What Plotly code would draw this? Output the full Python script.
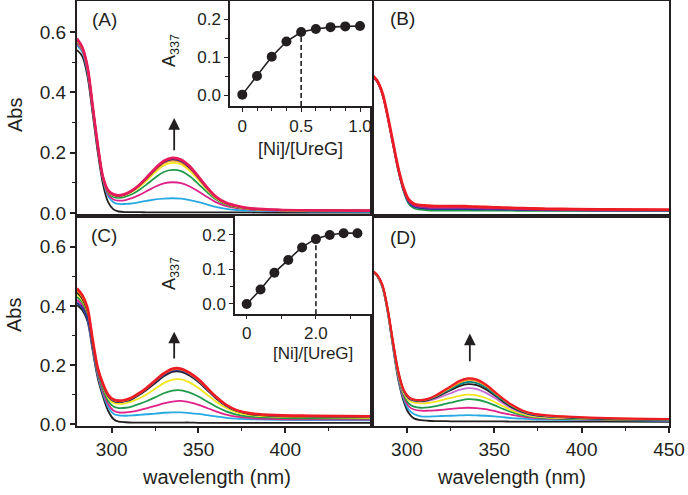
"""
Ni(II) titration of UreG followed by UV-vis: four spectral panels + two insets
"""
import plotly.graph_objects as go

W, H = 688, 495
FONT = "Liberation Sans, Arial, sans-serif"

# ── Palette ───────────────────────────────────────────────────────────────────
COLORS = {
    "black":   "#231f20",
    "cyan":    "#27a9e1",
    "magenta": "#e0218a",
    "green":   "#1f9b4a",
    "yellow":  "#f3e61c",
    "orange":  "#f7941d",
    "navy":    "#2e3192",
    "red":     "#ed1c24",
    "crimson": "#e61b5c",
    "purple":  "#92278f",
    "violet":  "#c86dd7",
    "teal":    "#00857f",
    "text":    "#231f20",
}

# ── Data ──────────────────────────────────────────────────────────────────────
WL = [280, 283, 286, 289, 292, 295, 298, 301, 304, 308, 312, 316, 320, 325,
      330, 335, 340, 345, 350, 355, 360, 366, 372, 380, 395, 415, 450]

# panel (A)
A_COLORS = ["black", "cyan", "magenta", "green", "yellow", "orange", "navy", "red", "crimson"]
A_SPECTRA = [
    [.540, .520, .455, .330, .200, .095, .035, .012, .005, .003, .003, .003, .002, .002, .002, .002, .002, .002, .002, .002, .002, .002, .002, .002, .001, .001, .001],
    [.555, .534, .469, .345, .214, .110, .055, .036, .030, .030, .032, .036, .040, .045, .048, .049, .048, .043, .036, .028, .020, .014, .010, .008, .006, .005, .004],
    [.562, .540, .475, .350, .219, .114, .062, .045, .041, .043, .050, .060, .072, .087, .098, .102, .099, .088, .071, .053, .036, .023, .016, .011, .008, .007, .006],
    [.568, .544, .480, .352, .222, .116, .068, .053, .050, .054, .063, .077, .094, .117, .136, .143, .139, .122, .096, .069, .046, .028, .019, .013, .009, .008, .007],
    [.571, .546, .483, .354, .224, .117, .071, .058, .055, .060, .071, .087, .107, .135, .158, .166, .161, .140, .110, .077, .050, .030, .020, .014, .010, .008, .007],
    [.573, .547, .484, .355, .224, .118, .072, .059, .056, .061, .073, .090, .112, .141, .165, .174, .168, .147, .115, .080, .052, .031, .021, .014, .010, .009, .008],
    [.574, .548, .485, .355, .225, .118, .073, .060, .057, .062, .074, .092, .114, .144, .168, .178, .172, .150, .117, .082, .053, .032, .022, .015, .011, .009, .008],
    [.576, .549, .486, .356, .225, .118, .074, .061, .058, .063, .075, .093, .116, .146, .171, .181, .175, .153, .119, .084, .054, .033, .023, .015, .011, .009, .008],
    [.578, .550, .487, .357, .226, .119, .075, .062, .059, .064, .076, .094, .117, .148, .173, .183, .177, .155, .121, .085, .055, .034, .024, .016, .011, .009, .008],
]

# panel (B)
B_COLORS = ["green", "navy", "purple", "magenta", "red"]
B_SPECTRA = [
    [.454, .434, .392, .316, .227, .141, .073, .031, .016, .011, .009, .008, .008, .008, .008, .008, .008, .008, .008, .008, .008, .007, .007, .007, .007, .007, .007],
    [.455, .435, .393, .317, .229, .144, .077, .036, .021, .016, .014, .013, .013, .013, .013, .013, .012, .012, .012, .011, .011, .010, .010, .009, .009, .008, .008],
    [.456, .436, .394, .319, .231, .146, .080, .039, .025, .020, .018, .017, .017, .017, .017, .016, .016, .015, .015, .014, .013, .012, .011, .011, .010, .009, .009],
    [.457, .437, .395, .320, .233, .148, .082, .042, .028, .023, .021, .020, .020, .020, .020, .019, .018, .018, .017, .016, .015, .014, .013, .012, .011, .010, .010],
    [.458, .438, .397, .322, .235, .150, .085, .045, .031, .026, .024, .023, .023, .023, .023, .022, .021, .020, .019, .018, .017, .016, .015, .014, .013, .012, .011],
]

# panel (C)
C_COLORS = ["black", "cyan", "magenta", "green", "yellow", "black", "navy", "orange", "red"]
C_SPECTRA = [
    [.403, .386, .349, .250, .155, .093, .045, .018, .009, .007, .006, .006, .006, .006, .006, .006, .006, .006, .005, .005, .005, .005, .005, .005, .005, .005, .005],
    [.412, .395, .357, .258, .163, .103, .058, .036, .030, .029, .030, .032, .034, .036, .039, .040, .040, .038, .035, .031, .027, .022, .019, .017, .015, .014, .013],
    [.420, .403, .364, .264, .169, .111, .068, .047, .040, .040, .043, .048, .054, .062, .071, .077, .079, .074, .066, .055, .044, .033, .026, .021, .018, .017, .016],
    [.430, .412, .371, .270, .175, .119, .079, .060, .055, .056, .061, .069, .078, .091, .105, .114, .115, .107, .094, .077, .060, .044, .033, .026, .022, .020, .019],
    [.440, .420, .378, .276, .181, .127, .089, .072, .069, .071, .078, .088, .101, .120, .139, .151, .152, .141, .123, .100, .077, .055, .040, .031, .026, .024, .022],
    [.445, .425, .383, .280, .185, .132, .095, .079, .075, .078, .086, .100, .116, .139, .162, .177, .177, .164, .143, .116, .088, .062, .045, .034, .028, .026, .024],
    [.410, .395, .360, .268, .180, .130, .095, .080, .076, .079, .088, .102, .119, .143, .166, .181, .181, .168, .146, .118, .090, .063, .046, .035, .029, .027, .025],
    [.452, .431, .389, .284, .187, .135, .098, .082, .078, .081, .090, .104, .121, .146, .170, .185, .185, .171, .149, .121, .092, .065, .047, .036, .030, .028, .026],
    [.459, .437, .395, .288, .190, .137, .100, .084, .080, .083, .092, .106, .123, .148, .172, .188, .188, .174, .152, .123, .094, .066, .048, .037, .031, .029, .027],
]

# panel (D)
D_COLORS = ["black", "cyan", "magenta", "green", "yellow", "violet", "black", "teal", "orange", "red"]
D_SPECTRA = [
    [.518, .500, .462, .377, .261, .152, .080, .038, .020, .014, .012, .011, .011, .010, .010, .010, .010, .010, .010, .010, .009, .009, .009, .009, .009, .009, .008],
    [.518, .501, .463, .379, .265, .158, .088, .050, .035, .027, .026, .027, .028, .029, .030, .031, .030, .029, .027, .024, .021, .019, .017, .016, .015, .014, .012],
    [.518, .501, .464, .381, .268, .163, .095, .061, .050, .046, .046, .047, .049, .052, .055, .056, .055, .051, .045, .038, .032, .026, .022, .019, .017, .015, .013],
    [.518, .502, .465, .383, .271, .168, .102, .071, .060, .056, .057, .061, .066, .073, .080, .085, .083, .076, .065, .052, .041, .031, .025, .021, .018, .016, .014],
    [.518, .502, .466, .385, .274, .172, .108, .081, .073, .071, .072, .076, .082, .089, .096, .100, .098, .089, .076, .061, .047, .035, .027, .023, .020, .017, .015],
    [.518, .503, .467, .386, .276, .175, .112, .086, .079, .077, .079, .085, .094, .105, .116, .122, .119, .107, .090, .071, .054, .039, .030, .025, .021, .018, .015],
    [.518, .503, .468, .387, .277, .177, .115, .089, .081, .079, .082, .090, .101, .115, .129, .136, .132, .119, .099, .077, .058, .042, .032, .027, .022, .018, .016],
    [.519, .504, .469, .388, .278, .178, .116, .090, .082, .080, .084, .092, .104, .119, .135, .143, .139, .125, .103, .081, .061, .044, .034, .028, .023, .019, .016],
    [.519, .504, .469, .389, .279, .179, .117, .091, .083, .081, .085, .094, .107, .124, .141, .150, .146, .131, .108, .085, .064, .046, .035, .029, .024, .020, .017],
    [.520, .505, .470, .390, .280, .180, .118, .092, .084, .082, .086, .096, .110, .128, .146, .155, .151, .135, .111, .087, .066, .047, .036, .030, .025, .021, .018],
]

# insets: A337 vs [Ni]/[UreG]
NI_A = [0, 0.125, 0.25, 0.375, 0.5, 0.625, 0.75, 0.875, 1.0]
A337_A = [0.001, 0.050, 0.101, 0.141, 0.166, 0.174, 0.179, 0.181, 0.182]
NI_C = [0, 0.4, 0.8, 1.2, 1.6, 2.0, 2.4, 2.8, 3.2]
A337_C = [0.0, 0.042, 0.090, 0.127, 0.163, 0.187, 0.199, 0.204, 0.204]
BREAK_A, BREAK_C = 4, 5   # index of the stoichiometric break (dashed line)


def px(x):
    return x / W


def py(y):
    return 1 - y / H


fig = go.Figure()


def add_spectra(spectra, colors, xa, ya, top_width=2.2):
    for i, (ys, c) in enumerate(zip(spectra, colors)):
        fig.add_trace(go.Scatter(
            x=WL, y=ys, mode="lines",
            line=dict(color=COLORS[c], width=top_width if i == len(spectra) - 1 else 1.8,
                      shape="spline", smoothing=0.9),
            xaxis=xa, yaxis=ya, showlegend=False, hoverinfo="skip",
        ))


add_spectra(A_SPECTRA, A_COLORS, "x", "y", 2.6)
add_spectra(B_SPECTRA, B_COLORS, "x2", "y2", 2.8)
add_spectra(C_SPECTRA, C_COLORS, "x3", "y3", 2.6)
add_spectra(D_SPECTRA, D_COLORS, "x4", "y4", 2.2)

# ── Insets ────────────────────────────────────────────────────────────────────
INSA_Y = [-0.029, 0.248]
INSC_Y = [-0.0297, 0.2536]

fig.add_trace(go.Scatter(
    x=[NI_A[BREAK_A]] * 2, y=[INSA_Y[0], A337_A[BREAK_A]], mode="lines",
    line=dict(color=COLORS["black"], width=1.6, dash="5px,3px"),
    xaxis="x5", yaxis="y5", showlegend=False, hoverinfo="skip",
))
fig.add_trace(go.Scatter(
    x=NI_A, y=A337_A, mode="lines+markers",
    line=dict(color=COLORS["black"], width=1.6),
    marker=dict(color=COLORS["black"], size=10),
    xaxis="x5", yaxis="y5", showlegend=False, hoverinfo="skip",
))
fig.add_trace(go.Scatter(
    x=[NI_C[BREAK_C]] * 2, y=[INSC_Y[0], A337_C[BREAK_C]], mode="lines",
    line=dict(color=COLORS["black"], width=1.6, dash="5px,3px"),
    xaxis="x6", yaxis="y6", showlegend=False, hoverinfo="skip",
))
fig.add_trace(go.Scatter(
    x=NI_C, y=A337_C, mode="lines+markers",
    line=dict(color=COLORS["black"], width=1.6, shape="spline", smoothing=0.6),
    marker=dict(color=COLORS["black"], size=10),
    xaxis="x6", yaxis="y6", showlegend=False, hoverinfo="skip",
))

# ── Axes ──────────────────────────────────────────────────────────────────────
TICKFONT = dict(family=FONT, size=19, color=COLORS["text"])
INSFONT = dict(family=FONT, size=17, color=COLORS["text"])
frame = dict(showline=True, mirror=True, linecolor=COLORS["black"], linewidth=2,
             showgrid=False, zeroline=False, automargin=False, fixedrange=True)
ins_frame = dict(frame, linewidth=1.5)

y_main = dict(frame, ticks="outside", ticklen=5, tickwidth=1.5, tickcolor=COLORS["black"],
              tickvals=[0, 0.2, 0.4, 0.6], ticktext=["0.0", "0.2", "0.4", "0.6"],
              tickfont=TICKFONT,
              minor=dict(tickvals=[0.1, 0.3, 0.5], ticks="outside", ticklen=3,
                         tickwidth=1.2, tickcolor=COLORS["black"]))
y_blank = dict(frame, showticklabels=False, ticks="")
x_blank = dict(frame, range=[280, 450], showticklabels=False, ticks="")
x_main = dict(frame, range=[280, 450], ticks="outside", ticklen=5, tickwidth=1.5,
              tickcolor=COLORS["black"], tickfont=TICKFONT,
              minor=dict(tickvals=[325, 375, 425], ticks="outside", ticklen=3,
                         tickwidth=1.2, tickcolor=COLORS["black"]))

fig.update_layout(
    xaxis=dict(x_blank, domain=[px(77), px(372)], anchor="y"),
    yaxis=dict(y_main, domain=[py(216), py(1)], range=[-0.0099, 0.7027], anchor="x"),
    xaxis2=dict(x_blank, domain=[px(372), px(669)], anchor="y2"),
    yaxis2=dict(y_blank, domain=[py(216), py(1)], range=[-0.0099, 0.7027], anchor="x2"),
    xaxis3=dict(x_main, domain=[px(77), px(372)], anchor="y3",
                tickvals=[300, 350, 400], ticktext=["300", "350", "400"]),
    yaxis3=dict(y_main, domain=[py(426), py(216)], range=[-0.0057, 0.7037], anchor="x3"),
    xaxis4=dict(x_main, domain=[px(372), px(669)], anchor="y4",
                tickvals=[300, 350, 400, 450], ticktext=["300", "350", "400", "450"]),
    yaxis4=dict(y_blank, domain=[py(426), py(216)], range=[-0.0057, 0.7037], anchor="x4"),
    # inset A
    xaxis5=dict(ins_frame, domain=[px(230), px(372)], range=[-0.1045, 1.102], anchor="y5",
                ticks="outside", ticklen=4, tickwidth=1.3, tickcolor=COLORS["black"],
                tickvals=[0, 0.5, 1.0], ticktext=["0", "0.5", "1.0"], tickfont=INSFONT,
                minor=dict(tickvals=[0.125, 0.25, 0.375, 0.625, 0.75, 0.875],
                           ticks="outside", ticklen=3, tickwidth=1.1, tickcolor=COLORS["black"])),
    yaxis5=dict(ins_frame, domain=[py(106), py(1)], range=INSA_Y, anchor="x5",
                ticks="outside", ticklen=4, tickwidth=1.3, tickcolor=COLORS["black"],
                tickvals=[0, 0.1, 0.2], ticktext=["0.0", "0.1", "0.2"], tickfont=INSFONT,
                minor=dict(tickvals=[0.05, 0.15], ticks="outside", ticklen=3,
                           tickwidth=1.1, tickcolor=COLORS["black"])),
    # inset C
    xaxis6=dict(ins_frame, domain=[px(235), px(372)], range=[-0.338, 3.62], anchor="y6",
                ticks="outside", ticklen=3, tickwidth=1.3, tickcolor=COLORS["black"],
                tickvals=[0, 2.0], ticktext=["0", "2.0"], tickfont=INSFONT,
                minor=dict(tickvals=[1.0, 3.0], ticks="outside", ticklen=3,
                           tickwidth=1.1, tickcolor=COLORS["black"])),
    yaxis6=dict(ins_frame, domain=[py(314.3), py(216)], range=INSC_Y, anchor="x6",
                ticks="outside", ticklen=4, tickwidth=1.3, tickcolor=COLORS["black"],
                tickvals=[0, 0.1, 0.2], ticktext=["0.0", "0.1", "0.2"], tickfont=INSFONT,
                minor=dict(tickvals=[0.05, 0.15], ticks="outside", ticklen=3,
                           tickwidth=1.1, tickcolor=COLORS["black"])),
)

# ── Text & arrows ─────────────────────────────────────────────────────────────
ann = []


def label(text, x, y, size=19, angle=0):
    ann.append(dict(text=text, x=px(x), y=py(y), xref="paper", yref="paper",
                    showarrow=False, textangle=angle, xanchor="center", yanchor="middle",
                    font=dict(family=FONT, size=size, color=COLORS["text"])))


label("(A)", 104, 19)
label("(B)", 402, 18)
label("(C)", 104, 236)
label("(D)", 403, 237)
label("Abs", 15, 115, 20, -90)
label("Abs", 14, 315, 20, -90)
label("wavelength (nm)", 216, 477, 20)
label("wavelength (nm)", 511, 477, 20)
label("A<sub>337</sub>", 170, 51, 18, -90)
label("A<sub>337</sub>", 170, 274, 18, -90)
label("[Ni]/[UreG]", 300, 149, 18)
label("[Ni]/[UreG]", 313, 353, 17)

for xa, ya, head, tail in [("x", "y", 0.315, 0.203), ("x3", "y3", 0.313, 0.217),
                           ("x4", "y4", 0.307, 0.208)]:
    ann.append(dict(x=336, y=head, ax=336, ay=tail, xref=xa, yref=ya, axref=xa, ayref=ya,
                    text="", showarrow=True, arrowhead=2, arrowsize=1.3, arrowwidth=1.8,
                    arrowcolor=COLORS["black"]))

fig.update_layout(
    annotations=ann,
    template="none",
    width=W, height=H,
    margin=dict(l=0, r=0, t=0, b=0),
    paper_bgcolor="white",
    plot_bgcolor="white",
    showlegend=False,
    font=dict(family=FONT, color=COLORS["text"]),
)

# page body has an 8px default margin; drop it so the figure sits at (0, 0)
fig.write_html("out.html", config={"displayModeBar": False},
               post_script="document.body.style.margin='0';")
